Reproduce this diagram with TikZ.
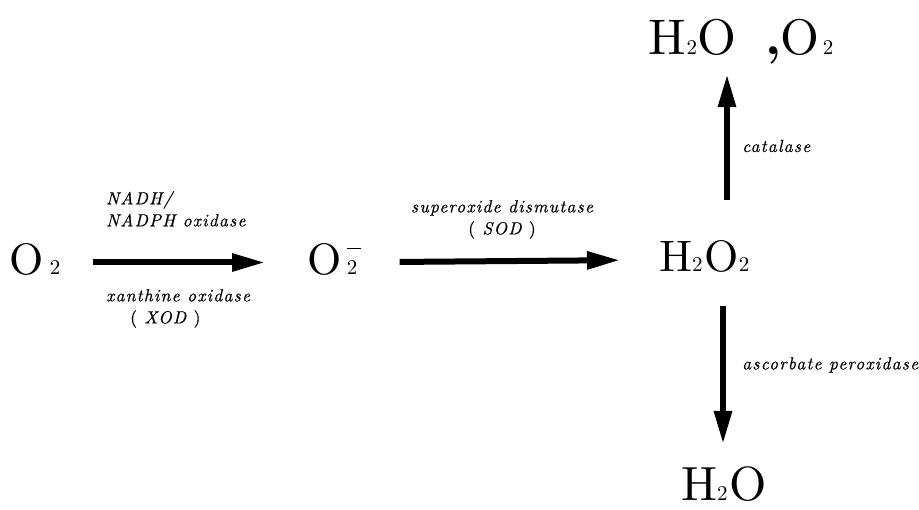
\documentclass[tikz,border=0pt]{standalone}
\usepackage{fontspec}
\setmainfont{lmroman10-regular.otf}[ItalicFont=lmroman10-italic.otf, BoldFont=lmroman10-bold.otf]
\usepackage{tikz}
\usetikzlibrary{arrows.meta,positioning,calc}
\newcommand{\chemsub}[2][1pt]{\hspace{#1}{\fontsize{21}{21}\selectfont #2}}
\newcommand{\subbar}{\rlap{\raisebox{26pt}{\rule{14pt}{1.4pt}}}2}

\begin{document}
\begin{tikzpicture}[x=1pt,y=-1pt,
        chem/.style={inner sep=0pt, text depth=6pt, font=\fontsize{44}{44}\selectfont},
        enz/.style={inner sep=0pt, font=\fontsize{17.5}{22}\selectfont\itshape\addfontfeature{LetterSpace=7,FakeBold=0.5}},
        rxn/.style={line width=6pt, -{Triangle[length=33pt,width=17pt]}}]
    \useasboundingbox (0,0) rectangle (919,510);
    % species
    \node[chem, anchor=base west] (oxy) at (9.5,275) {O\chemsub[6pt]{2}};
    \node[chem, anchor=base west] (sup) at (307.5,275) {O\chemsub[5pt]{\subbar}};
    \node[chem, anchor=base west] (hp) at (659,272) {H\chemsub[0pt]{2}\hspace{2pt}O\chemsub[0pt]{2}};
    \node[chem, anchor=base west, font=\fontsize{50}{50}\selectfont] (top) at (648,55) {H\chemsub[1pt]{2}O\hspace{29pt}{\bfseries ,}\hspace{-1pt}O\chemsub[4pt]{2}};
    \node[chem, anchor=base west, text depth=0pt, font=\fontsize{48}{48}\selectfont] (bot) at (681,501) {H\chemsub[0pt]{2}\hspace{2pt}O};
    \coordinate (catx) at (727,0);
    \coordinate (ascx) at (723,0);
    % reactions
    \draw[rxn, shorten <=32pt, shorten >=42.5pt] (oxy) -- (sup);
    \draw[rxn, shorten <=42pt, shorten >=39pt] (sup) -- (hp);
    \draw[rxn, shorten <=41pt, shorten >=13pt] (hp.north -| catx) -- (top.south -| catx);
    \draw[rxn, shorten <=28pt, shorten >=23pt] (hp.south -| ascx) -- (bot.north -| ascx);
    % enzymes
    \node[enz, anchor=north west, align=left] (nadph) at (106,191) {NADH/\\NADPH oxidase};
    \node[enz, anchor=north west, align=left] (xod) at (106,289) {xanthine oxidase\\\hspace*{24pt}{\upshape(} XOD {\upshape)}};
    \node[enz, anchor=north, align=center] (sod) at (502,200) {superoxide dismutase\\{\upshape(} SOD {\upshape)}};
    \node[enz, anchor=west] (cat) at (742,146) {catalase};
    \node[enz, anchor=west] (asc) at (742,365) {ascorbate peroxidase};
\end{tikzpicture}
\end{document}
